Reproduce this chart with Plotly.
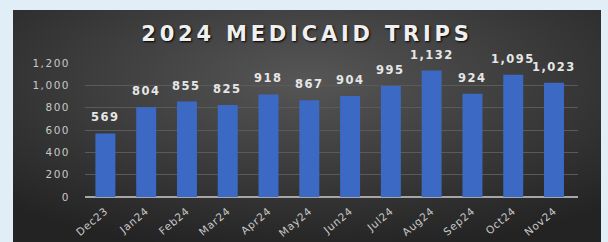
import base64
import plotly.graph_objects as go

months = ["Dec23", "Jan24", "Feb24", "Mar24", "Apr24", "May24", "Jun24",
          "Jul24", "Aug24", "Sep24", "Oct24", "Nov24"]
trips = [569, 804, 855, 825, 918, 867, 904, 995, 1132, 924, 1095, 1023]
y_ticks = [0, 200, 400, 600, 800, 1000, 1200]
title_text = "2024 MEDICAID TRIPS"

W, H = 608, 242
L, R, T, B = 85, 30, 63, 45
plot_w = W - L - R
plot_h = H - T - B


def spaced(s, px):
    return f'<span style="letter-spacing:{px}px">{s}</span>'


# dark panel with radial gradient
svg = (
    '<svg xmlns="http://www.w3.org/2000/svg" width="588" height="232" '
    'viewBox="0 0 588 232" preserveAspectRatio="none">'
    '<defs><radialGradient id="g" cx="50%" cy="30%" r="75%" fx="50%" fy="30%">'
    '<stop offset="0%" stop-color="#565656"/>'
    '<stop offset="55%" stop-color="#3a3a3a"/>'
    '<stop offset="100%" stop-color="#232323"/>'
    '</radialGradient></defs>'
    '<rect width="588" height="232" fill="url(#g)"/></svg>'
)
src = "data:image/svg+xml;base64," + base64.b64encode(svg.encode()).decode()

box_x0, box_x1, box_y0 = 13, 601, 10
img = dict(
    source=src, xref="paper", yref="paper",
    x=(box_x0 - L) / plot_w, y=(H - B - box_y0) / plot_h,
    sizex=(box_x1 - box_x0) / plot_w, sizey=(H - box_y0) / plot_h,
    sizing="stretch", xanchor="left", yanchor="top", layer="below",
)

fig = go.Figure()
fig.add_trace(go.Bar(
    x=months, y=trips,
    marker=dict(color="#3c69c3", line=dict(width=0)),
    width=0.49,
))

for m, v in zip(months, trips):
    fig.add_annotation(
        x=m, y=v, text=spaced(f"{v:,}", 1.5), showarrow=False,
        yanchor="bottom", yshift=7,
        font=dict(family="DejaVu Sans", size=11.5, color="#e6e6e6", weight="bold"),
    )

fig.update_layout(
    width=W, height=H,
    margin=dict(l=L, r=R, t=T, b=B, autoexpand=False),
    paper_bgcolor="#e1eef8",
    plot_bgcolor="rgba(0,0,0,0)",
    images=[img],
    showlegend=False,
    title=dict(
        text=spaced(title_text, 3.8), x=307 / W, xref="container", xanchor="center",
        y=1 - 34 / H, yref="container", yanchor="middle",
        automargin=False,
        font=dict(family="DejaVu Sans", size=21, color="#f0f0f0", weight="bold",
                  shadow="1px 1px 2px #000000"),
    ),
    xaxis=dict(
        tickangle=-40, showgrid=False, showline=False, automargin=False,
        tickvals=months, ticktext=[spaced(m, 0.8) for m in months],
        tickfont=dict(family="DejaVu Sans", size=10.5, color="#c8c8c8"),
        ticks="", ticklabelstandoff=5,
    ),
    yaxis=dict(
        range=[0, 1200], tickvals=y_ticks,
        ticktext=[spaced(f"{t:,}", 1.5) for t in y_ticks], automargin=False,
        showgrid=True, gridcolor="#5a5a5a", gridwidth=1,
        zeroline=True, zerolinecolor="#a6a6a6", zerolinewidth=1.5,
        tickfont=dict(family="DejaVu Sans", size=10.5, color="#c8c8c8"),
        ticks="", ticklabelstandoff=14,
    ),
)

fig.write_html(
    "out.html",
    config={"displayModeBar": False},
    post_script="document.body.style.margin='0';document.body.style.overflow='hidden';",
)
